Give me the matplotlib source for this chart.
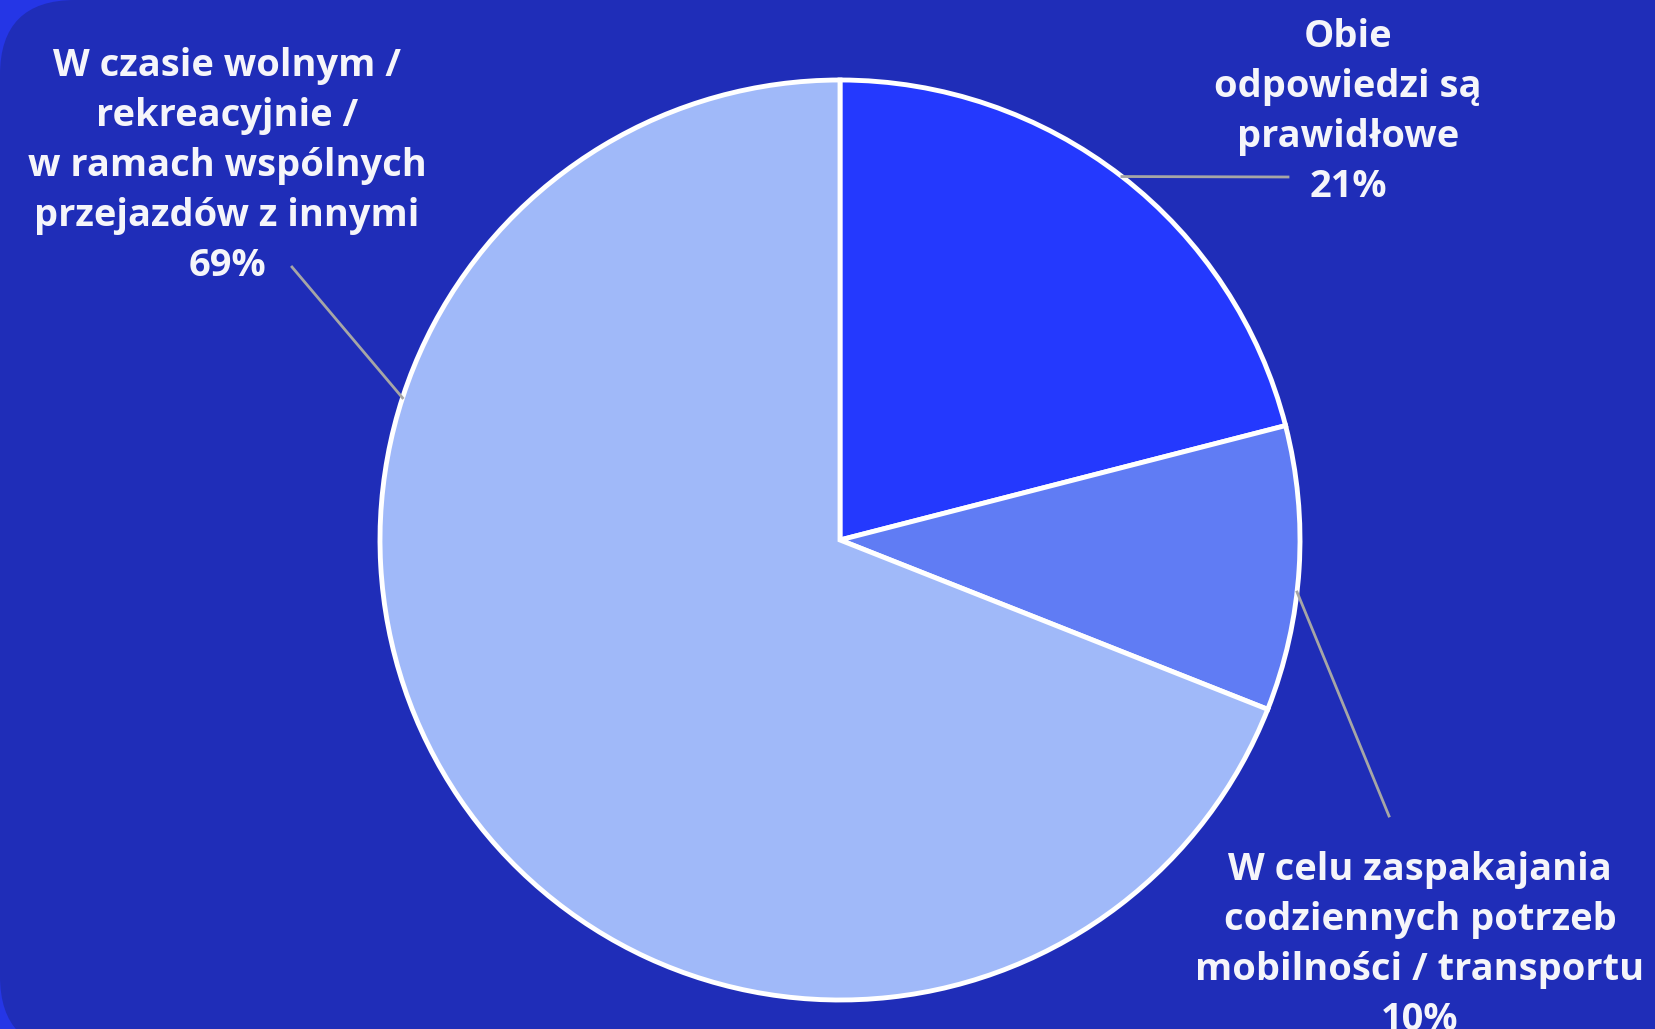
import numpy as np
import matplotlib.pyplot as plt
from matplotlib.patches import FancyBboxPatch

labels = ["Obie\nodpowiedzi są\nprawidłowe",
          "W celu zaspakajania\ncodziennych potrzeb\nmobilności / transportu",
          "W czasie wolnym /\nrekreacyjnie /\nw ramach wspólnych\nprzejazdów z innymi"]
shares = [21, 10, 69]
colors = ["#2439FE", "#607CF4", "#A0B9F9"]

W, H = 1655, 1029
fig = plt.figure(figsize=(W / 100, H / 100), dpi=100, facecolor="#2536E6")
ax = fig.add_axes([0, 0, 1, 1])

# background card
card = FancyBboxPatch((0, -22), 1800, H + 22, boxstyle="round,pad=0,rounding_size=75",
                      facecolor="#1F2DB8", edgecolor="none", zorder=0)
ax.add_patch(card)

cx, cy, r = 840, 489, 460
ax.pie(shares, colors=colors, startangle=90, counterclock=False,
       center=(cx, cy), radius=r, frame=True,
       wedgeprops=dict(edgecolor="white", linewidth=3.5))
ax.set_xlim(0, W)
ax.set_ylim(0, H)
ax.set_aspect("equal")
ax.axis("off")

# leader lines: angle on the pie edge -> end point near label
anchor_angles = [52.2, -6.5, 162]
line_ends = [(1288, 852), (1389, 213), (292, 762)]
text_pos = [(1348, 917), (1420, 84), (227, 863)]

for lab, s, ang, end, pos in zip(labels, shares, anchor_angles, line_ends, text_pos):
    a = np.radians(ang)
    start = (cx + r * np.cos(a), cy + r * np.sin(a))
    ax.plot([start[0], end[0]], [start[1], end[1]], color="#A6A6A6", lw=2, zorder=5)
    ax.text(pos[0], pos[1], f"{lab}\n{s}%", ha="center", va="center",
            multialignment="center", color="#F5F5FA", fontsize=27.4,
            fontweight="bold", family="Open Sans", linespacing=1.41, zorder=6)

fig.savefig("out.png", dpi=100, facecolor=fig.get_facecolor())
